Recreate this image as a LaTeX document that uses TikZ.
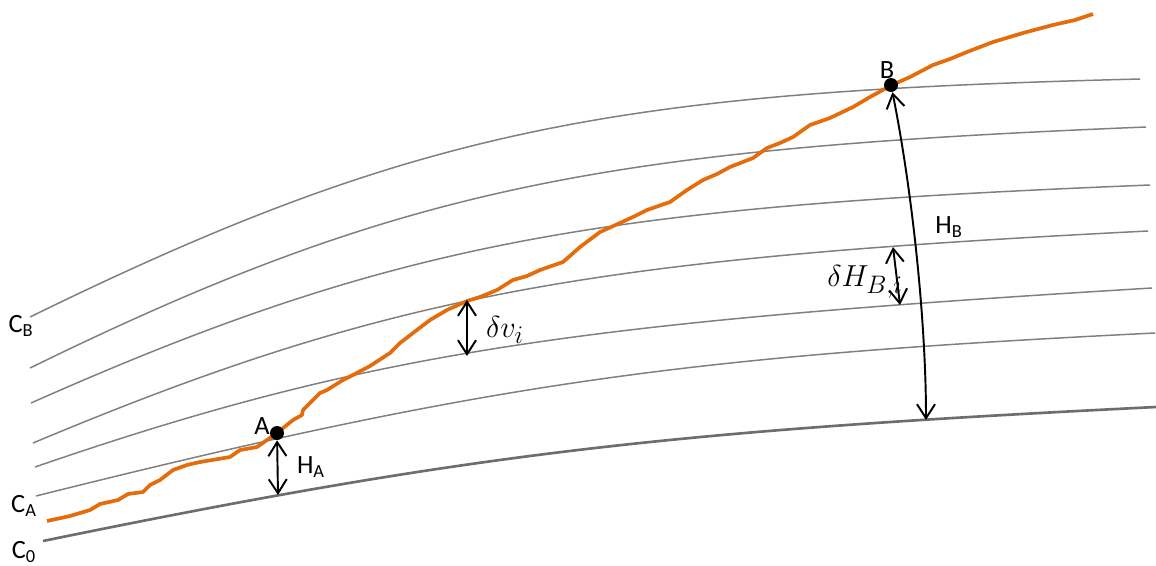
\documentclass[tikz,border=0pt]{standalone}
\usepackage{fontspec}
\setmainfont{Carlito}
\usetikzlibrary{arrows.meta}
\definecolor{trackorange}{RGB}{228,108,10}
\definecolor{curvegray}{RGB}{128,128,128}

\begin{document}
\begin{tikzpicture}[
  x=0.02cm, y=-0.02cm,
  curve/.style={curvegray, line width=0.85pt},
  base/.style={curvegray!85!black, line width=1.5pt},
  track/.style={trackorange, line width=2.1pt, line join=round},
  dot/.style={circle, fill=black, inner sep=0pt, minimum size=0.28cm},
  lbl/.style={font=\fontsize{15}{18}\selectfont, inner sep=0pt},
  mlbl/.style={font=\fontsize{19}{22}\selectfont, inner sep=0pt},
  dim/.style={{Straight Barb[length=2.8mm,width=3.6mm]}-{Straight Barb[length=2.8mm,width=3.6mm]}, line width=1.1pt},
]
\useasboundingbox (0,0) rectangle (1156,565);

% level curves, C_B on top down to C_0
\draw[curve] (30,317) .. controls (420,126) and (619,92) .. (1140,79);
\draw[curve] (30,368) .. controls (402,186) and (604,149) .. (1146,127);
\draw[curve] (31,403) .. controls (396,241) and (598,207) .. (1150,185);
\draw[curve] (33,443) .. controls (393,292) and (594,259) .. (1148,231);
\draw[curve] (35,467) .. controls (369,352) and (573,323) .. (1152,288);
\draw[curve] (36,496) .. controls (491,382) and (688,356) .. (1155,333);
\draw[base] (43,541) .. controls (472,453) and (670,431) .. (1156,407);

% orange track
\draw[track] plot coordinates {(47,521) (70,516) (90,510) (100,504) (118,500) (128,494) (143,492)
  (150,485) (160,480) (173,470) (187,465) (200,462) (230,457) (240,450) (257,447)
  (267,440) (277,433) (293,420) (302,415) (303,410) (320,393) (327,390) (343,380)
  (353,375) (370,366) (390,353) (400,343) (413,333) (430,320) (447,310) (467,301) (480,297) (497,290)
  (513,280) (527,276) (540,270) (563,262) (580,247) (600,232) (620,223) (635,216) (647,210) (670,202)
  (687,190) (703,180) (717,174) (730,167) (753,158) (767,148) (780,143) (793,137) (810,125) (830,118)
  (853,107) (870,97) (892,85) (910,77) (933,65) (950,59) (967,52) (993,42) (1023,33)
  (1053,25) (1075,20) (1093,14)};

% points and labels
\node[dot] (A) at (277,433) {};
\node[dot] (B) at (891,85) {};
\node[lbl] (lblA) at (262,426) {A};
\node[lbl] (lblB) at (887,70) {B};
\node[lbl] (lblCB) at (21,326) {C\textsubscript{B}};
\node[lbl] (lblCA) at (24,506) {C\textsubscript{A}};
\node[lbl] (lblC0) at (24,552) {C\textsubscript{0}};
\node[lbl] (lblHA) at (311,467) {H\textsubscript{A}};
\node[lbl] (lblHB) at (949,227) {H\textsubscript{B}};
\node[mlbl] (lbldv) at (505,330) {$\delta v_i$};
\node[mlbl, anchor=east] (lbldH) at (903,282) {$\delta H_{B,i}$};

\coordinate (haBot) at (278,495);
\coordinate (dvTop) at (467,300);
\coordinate (dvBot) at (467,356);
\coordinate (dhTop) at (893,247);
\coordinate (dhBot) at (900,305);
\coordinate (hbBot) at (926,420);

% heights
\draw[dim] (A) -- (haBot);
\draw[dim] (dvTop) -- (dvBot);
\draw[dim] (dhTop) -- (dhBot);
\draw[dim] (B) .. controls (912,190) and (926,320) .. (hbBot);
\end{tikzpicture}
\end{document}
